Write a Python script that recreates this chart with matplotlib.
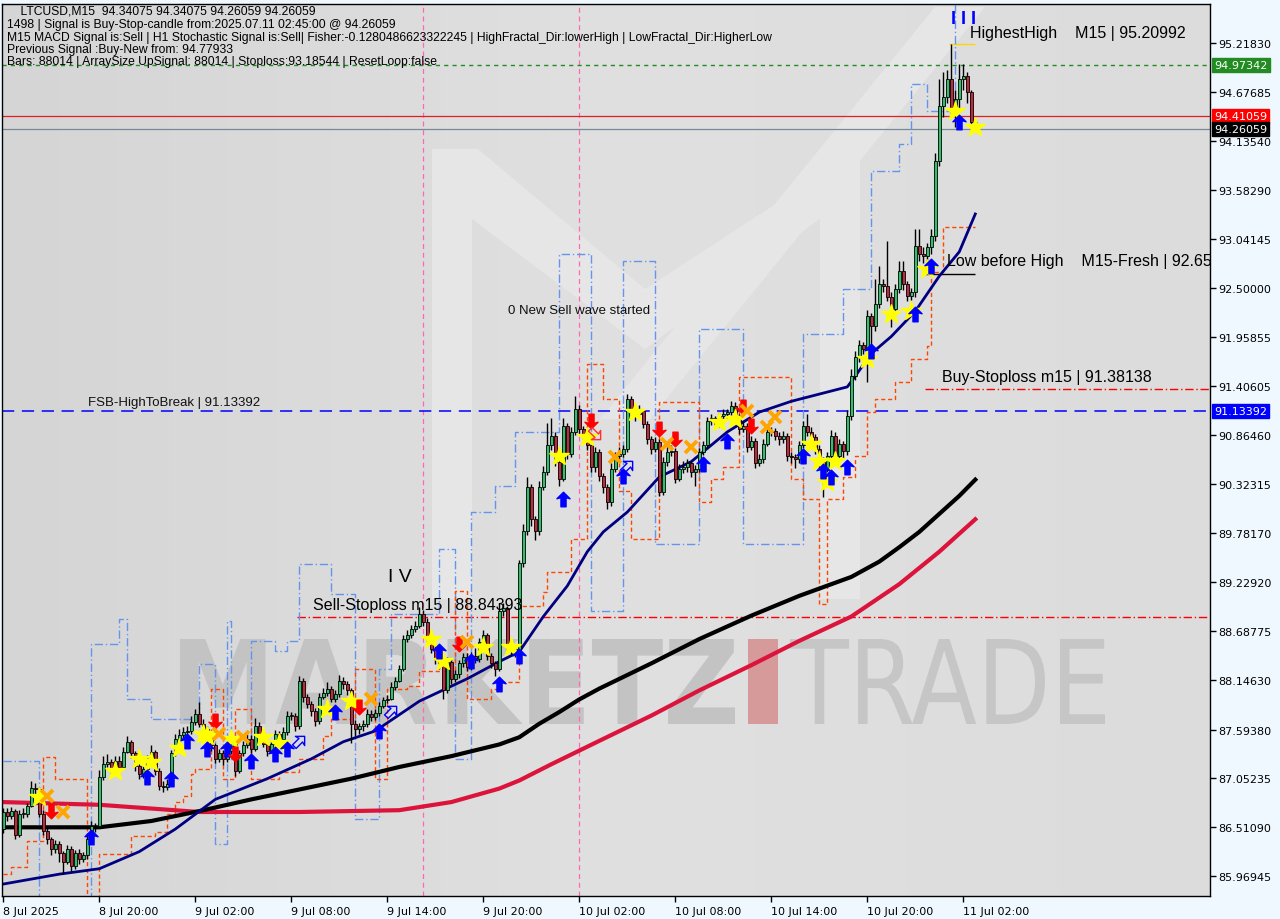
import numpy as np
import matplotlib
matplotlib.use("Agg")
import matplotlib.pyplot as plt
from matplotlib.path import Path
from matplotlib.patches import PathPatch, Polygon
from matplotlib.textpath import TextPath
from matplotlib.font_manager import FontProperties
from matplotlib.transforms import Affine2D, blended_transform_factory

# ---------------- DATA ----------------
first_open = 86.49
close = [86.68,86.63,86.69,86.42,86.66,86.66,86.75,86.95,86.94,86.66,
86.47,86.38,86.27,86.33,86.22,86.13,86.27,86.08,86.22,86.16,
86.20,86.38,86.52,86.52,87.07,87.21,87.24,87.14,87.25,87.18,
87.35,87.46,87.33,87.19,87.10,87.16,87.27,87.35,87.14,86.97,
86.96,86.99,87.33,87.49,87.53,87.57,87.58,87.68,87.77,87.66,
87.60,87.49,87.42,87.27,87.33,87.27,87.36,87.44,87.14,87.33,
87.42,87.49,87.38,87.64,87.55,87.44,87.36,87.44,87.55,87.49,
87.57,87.75,87.75,87.63,88.14,87.96,87.88,87.80,87.69,87.96,
88.00,88.05,87.94,87.99,88.13,88.10,88.03,87.66,87.60,87.63,
87.66,87.77,87.74,87.78,87.86,87.92,87.94,88.07,88.14,88.27,
88.60,88.64,88.71,88.74,88.88,88.79,88.60,88.49,88.38,88.33,
88.03,88.35,88.16,88.21,88.33,88.40,88.29,88.41,88.38,88.57,
88.64,88.41,88.33,88.27,88.91,88.94,88.52,88.49,88.46,89.44,
89.80,90.29,89.93,89.80,90.29,90.46,90.75,90.86,90.57,90.38,
90.97,90.66,90.90,91.16,90.93,90.88,90.75,90.51,90.68,90.41,
90.29,90.12,90.49,90.63,90.66,90.71,91.27,91.12,91.10,91.13,
90.99,90.82,90.71,90.79,90.23,90.57,90.68,90.69,90.38,90.49,
90.51,90.55,90.46,90.49,90.68,90.75,91.02,91.05,90.99,91.08,
91.10,91.12,91.19,91.07,90.93,90.97,90.73,90.80,90.55,90.60,
90.77,90.90,90.91,90.86,90.82,90.86,90.63,90.62,90.60,90.75,
90.97,90.90,90.84,90.71,90.57,90.49,90.63,90.86,90.63,90.77,
90.69,91.08,91.52,91.73,91.86,91.82,92.19,92.08,92.32,92.54,
92.52,92.40,92.27,92.49,92.69,92.54,92.41,92.45,92.96,92.88,
92.85,92.95,93.08,93.91,94.52,94.62,94.82,94.49,94.60,94.82,
94.85,94.67,94.34,94.26059]
high = [86.72,86.72,86.74,86.71,86.70,86.72,86.78,87.02,87.00,86.96,
86.70,86.50,86.40,86.37,86.36,86.25,86.31,86.30,86.26,86.27,
86.24,86.45,86.58,86.56,87.15,87.30,87.32,87.27,87.30,87.30,
87.40,87.52,87.48,87.36,87.22,87.20,87.31,87.42,87.37,87.17,
87.02,87.05,87.37,87.55,87.60,87.62,87.64,87.75,87.82,87.90,
87.71,87.63,87.53,87.45,87.38,87.37,87.40,87.50,87.47,87.37,
87.47,87.55,87.54,87.72,87.68,87.58,87.48,87.48,87.59,87.58,
87.62,87.80,87.79,87.78,88.19,88.17,87.99,87.91,87.83,88.00,
88.06,88.12,88.08,88.04,88.20,88.18,88.13,88.06,87.70,87.67,
87.70,87.82,87.81,87.82,87.90,87.96,87.98,88.12,88.18,88.31,
88.65,88.70,88.76,88.80,88.96,88.92,88.83,88.64,88.53,88.42,
88.36,88.40,88.38,88.26,88.37,88.45,88.44,88.46,88.50,88.61,
88.70,88.67,88.45,88.36,89.00,89.00,88.97,88.56,88.53,89.48,
89.88,90.40,90.32,89.97,90.36,90.52,91.00,91.05,90.90,90.60,
91.05,91.00,90.95,91.30,91.20,90.97,90.92,90.78,90.73,90.71,
90.44,90.32,90.55,90.68,90.73,90.76,91.32,91.30,91.18,91.20,
91.16,91.02,90.85,90.84,90.82,90.62,90.73,90.75,90.72,90.54,
90.58,90.60,90.58,90.53,90.72,90.80,91.07,91.10,91.08,91.12,
91.15,91.16,91.24,91.23,91.10,91.02,91.00,90.85,90.83,90.65,
90.82,90.95,90.96,90.94,90.90,90.91,90.89,90.68,90.66,90.80,
91.02,91.10,90.95,90.88,90.75,90.62,90.68,90.92,90.90,90.82,
90.80,91.14,91.60,91.80,91.92,91.90,92.25,92.22,92.60,92.74,
92.60,93.02,92.45,92.54,92.80,92.80,92.58,92.50,93.15,93.15,
92.95,93.00,93.15,94.00,94.82,94.90,94.92,95.21,94.70,94.98,
94.99,94.90,94.70,94.34075]
low = [86.45,86.58,86.60,86.38,86.40,86.61,86.62,86.73,86.88,86.62,
86.42,86.33,86.20,86.22,86.12,85.99,86.10,86.03,86.05,86.10,
86.12,86.16,86.36,86.46,86.50,87.04,87.18,87.10,87.12,87.13,
87.16,87.33,87.28,87.14,87.05,87.06,87.13,87.24,87.09,86.92,
86.90,86.92,86.97,87.30,87.46,87.50,87.53,87.55,87.65,87.62,
87.55,87.45,87.36,87.22,87.24,87.20,87.23,87.32,87.08,87.11,
87.30,87.39,87.33,87.36,87.50,87.40,87.30,87.33,87.41,87.45,
87.46,87.54,87.70,87.58,87.60,87.90,87.83,87.75,87.64,87.66,
87.93,87.97,87.90,87.90,87.96,88.05,87.98,87.45,87.52,87.55,
87.58,87.62,87.69,87.70,87.75,87.83,87.89,87.92,88.04,88.12,
88.25,88.57,88.61,88.68,88.72,88.74,88.55,88.44,88.32,88.27,
87.94,88.00,88.10,88.12,88.17,88.29,88.24,88.26,88.33,88.35,
88.53,88.37,88.28,88.19,88.24,88.86,88.47,88.43,88.40,88.44,
89.40,89.76,89.86,89.70,89.76,90.25,90.42,90.70,90.52,90.30,
90.35,90.60,90.62,90.87,90.88,90.82,90.70,90.45,90.46,90.36,
90.22,90.04,90.08,90.45,90.58,90.62,90.68,91.05,91.02,91.05,
90.94,90.77,90.65,90.68,90.19,90.20,90.52,90.63,90.33,90.35,
90.44,90.46,90.40,90.30,90.45,90.64,90.72,90.98,90.94,90.96,
91.03,91.06,91.09,91.02,90.88,90.90,90.68,90.70,90.50,90.52,
90.56,90.74,90.85,90.81,90.76,90.78,90.58,90.56,90.50,90.56,
90.72,90.85,90.78,90.66,90.50,90.18,90.40,90.58,90.58,90.58,
90.60,90.64,91.03,91.48,91.68,91.77,91.45,91.75,92.02,92.28,
92.45,92.35,92.07,92.20,92.44,92.48,92.35,92.36,92.40,92.80,
92.78,92.80,92.88,93.02,93.85,94.40,94.55,94.40,94.29,94.45,
94.70,94.55,94.30,94.26059]

ma_fast_bars = [0,14,24,34,43,53,66,77,85,93,104,116,124,129,135,141,146,150,
                156,164,172,181,189,197,204,211,213,217,222,228,234,239,243]
ma_fast = [85.88,85.99,86.05,86.24,86.49,86.82,87.05,87.27,87.46,87.58,87.91,88.16,88.35,
           88.46,88.85,89.19,89.57,89.79,90.01,90.40,90.57,90.90,91.12,91.24,91.32,91.40,
           91.52,91.77,91.96,92.24,92.63,92.90,93.32]
ma_mid_bars = [0,24,37,49,62,74,87,99,112,124,129,134,139,144,149,162,174,187,199,212,219,
               224,229,234,239,243]
ma_mid = [86.51,86.51,86.58,86.69,86.82,86.93,87.05,87.18,87.30,87.43,87.51,87.66,87.79,
          87.93,88.05,88.33,88.60,88.86,89.08,89.29,89.46,89.62,89.79,89.99,90.19,90.37]
ma_slow_bars = [0,24,49,74,99,112,124,129,137,149,162,174,187,199,212,224,234,243]
ma_slow = [86.79,86.76,86.68,86.68,86.70,86.79,86.94,87.03,87.21,87.47,87.75,88.03,88.31,
           88.58,88.85,89.21,89.57,89.93]

upper_bars = [0,9,22,29,31,37,49,53,56,57,62,68,71,74,82,88,94,97,109,113,117,123,128,139,
              147,155,163,174,185,200,209,210,217,224,227,231,238,243]
upper_vals = [87.25,85.60,88.55,88.82,87.94,87.71,88.32,86.32,88.80,87.27,88.58,88.47,88.58,
              89.43,89.10,86.60,88.27,88.88,89.60,87.27,90.01,90.30,90.90,92.88,88.91,92.80,
              89.66,92.04,89.66,91.99,91.99,92.49,93.80,94.10,94.76,94.46,95.80,95.80]
lower_bars = [0,2,6,10,13,21,24,32,38,41,43,45,47,48,52,55,58,62,69,74,80,82,88,93,96,101,
              104,113,116,122,124,129,135,136,142,146,150,154,157,164,174,177,180,184,197,
              200,204,206,210,213,216,218,223,227,231,232,235,243]
lower_vals = [85.99,86.07,86.36,87.29,87.05,85.60,86.21,86.41,86.46,86.66,86.79,86.86,87.10,
              87.16,88.05,87.05,87.82,87.05,87.12,87.27,87.52,87.71,88.27,87.05,88.05,88.08,
              88.24,89.13,87.94,88.05,88.12,88.97,89.12,89.35,89.71,91.65,91.27,90.24,89.71,
              91.23,90.12,90.38,90.51,91.51,90.38,90.16,88.99,90.16,90.40,90.63,91.12,91.27,
              91.45,91.71,91.85,92.68,93.18,93.18]

star_bars = [9,28,34,37,44,50,51,57,65,69,81,87,107,110,120,127,139,146,158,179,183,202,204,
             208,206,216,222,227,231,238,243]
star_vals = [86.85,87.14,87.27,87.24,87.39,87.55,87.52,87.49,87.51,87.45,87.82,87.91,88.60,
             88.36,88.51,88.51,90.63,90.84,91.12,91.01,91.04,90.77,90.58,90.58,90.34,91.71,
             92.21,92.24,92.71,94.46,94.29]
buy_bars = [22,36,42,46,51,56,62,68,71,83,94,109,117,124,129,140,155,175,181,200,205,207,
            211,217,228,232,239]
buy_vals = [86.40,87.07,87.05,87.47,87.38,87.38,87.25,87.32,87.38,87.79,87.58,88.47,88.36,
            88.10,88.41,90.16,90.41,90.54,90.80,90.63,90.47,90.40,90.51,91.80,92.21,92.74,94.34]
buy_hollow_bars = [74,97,156]
buy_hollow_vals = [87.47,87.80,90.52]
sell_bars = [12,53,58,89,114,147,164,168,187,185]
sell_vals = [86.69,87.69,87.32,87.85,88.55,91.02,90.93,90.82,90.97,91.18]
sell_hollow_bars = [148]
sell_hollow_vals = [90.88]
x_bars = [11,15,54,60,92,116,153,166,172,186,191,193]
x_vals = [86.86,86.68,87.55,87.51,87.93,88.57,90.62,90.77,90.73,91.13,90.96,91.07]

price_ticks = [95.21830,94.67685,94.13540,93.58290,93.04145,92.50000,91.95855,91.40605,
               90.86460,90.32315,89.78170,89.22920,88.68775,88.14630,87.59380,87.05235,
               86.51090,85.96945]
time_tick_bars = [0,24,48,72,96,120,144,168,192,216,240]
time_tick_labels = ["8 Jul 2025","8 Jul 20:00","9 Jul 02:00","9 Jul 08:00","9 Jul 14:00",
                    "9 Jul 20:00","10 Jul 02:00","10 Jul 08:00","10 Jul 14:00",
                    "10 Jul 20:00","11 Jul 02:00"]

header_lines = [
    "    LTCUSD,M15  94.34075 94.34075 94.26059 94.26059",
    "1498 | Signal is Buy-Stop-candle from:2025.07.11 02:45:00 @ 94.26059",
    "M15 MACD Signal is:Sell | H1 Stochastic Signal is:Sell| Fisher:-0.1280486623322245 | HighFractal_Dir:lowerHigh | LowFractal_Dir:HigherLow",
    "Previous Signal :Buy-New from: 94.77933",
    "Bars: 88014 | ArraySize UpSignal: 88014 | Stoploss:93.18544 | ResetLoop:false",
]

level_green = 94.97342
level_red = 94.41059
level_bid = 94.26059
level_fsb = 91.13392
sell_stop = 88.84393
buy_stop = 91.38138
low_before_high = 92.65
highest_high = 95.20992

# ---------------- FIGURE ----------------
W, H = 1280, 920
fig = plt.figure(figsize=(12.8, 9.2), dpi=100, facecolor='#F0F8FF')
L, R, T, B = 2, 1210, 5, 897
ax = fig.add_axes([L / W, 1 - B / H, (R - L) / W, (B - T) / H])
ax.set_facecolor('#D9D9D9')
ax.set_xlim(-0.325, 301.675)
ax.set_ylim(85.7473, 95.6513)

P = Affine2D().scale(1 / W, -1 / H).translate(0, 1) + fig.transFigure  # pixel (y down) -> display

# background gradient
grad = np.linspace(0, 1, 256)[None, :]
ax.imshow(grad, extent=[-0.325, 301.675, 85.7473, 95.6513], aspect='auto',
          cmap=matplotlib.colors.LinearSegmentedColormap.from_list('bg', ['#D5D5D5', '#E0E0E0', '#DCDCDC']),
          zorder=0, interpolation='bicubic')

# big M logo (light shapes)
logo_polys = [
    [(432, 150), (472, 150), (472, 600), (432, 600)],
    [(820, 150), (860, 150), (860, 600), (820, 600)],
    [(432, 150), (478, 150), (645, 290), (645, 350), (432, 190)],
    [(645, 290), (860, 150), (860, 190), (645, 350)],
    [(600, 420), (935, 8), (985, 8), (650, 420)],
]
for poly in logo_polys:
    ax.add_patch(Polygon(poly, closed=True, transform=P, facecolor='#E6E6E6',
                         edgecolor='none', zorder=0.3))

# watermark text
def fit_text(s, bbox, color, weight):
    tp = TextPath((0, 0), s, size=100, prop=FontProperties(family='DejaVu Sans', weight=weight))
    ext = tp.get_extents()
    x0, y0, x1, y1 = bbox
    sx = (x1 - x0) / ext.width
    sy = (y1 - y0) / ext.height
    tr = Affine2D().translate(-ext.x0, -ext.y0).scale(sx, -sy).translate(x0, y1) + P
    ax.add_patch(PathPatch(tp, transform=tr, facecolor=color, edgecolor='none', zorder=0.5))

fit_text("MARKETZ", (180, 640, 735, 725), '#C3C3C3', 'bold')
fit_text("TRADE", (790, 640, 1105, 725), '#C6C6C6', 'normal')
ax.add_patch(Polygon([(748, 640), (778, 640), (778, 725), (748, 725)], closed=True,
                     transform=P, facecolor='#D69A9A', edgecolor='none', zorder=0.5))

# vertical pink dashed lines
for vb in [105, 144]:
    ax.axvline(vb, color='#FF69B4', lw=0.9, ls=(0, (4, 3)), zorder=1)

# bands
ax.step(upper_bars, upper_vals, where='post', color='#6495ED', lw=1.0,
        ls=(0, (6, 2, 1, 2)), zorder=1.2)
ax.step(lower_bars, lower_vals, where='post', color='#FF4500', lw=1.0,
        ls=(0, (3, 2)), zorder=1.2)

# horizontal levels
ax.axhline(level_green, color='#228B22', lw=1.0, ls=(0, (3, 3)), zorder=1.1)
ax.axhline(level_red, color='#E02020', lw=0.9, zorder=1.1)
ax.axhline(level_bid, color='#778899', lw=0.9, zorder=1.1)
ax.axhline(level_fsb, color='#0000FF', lw=1.1, ls=(0, (8, 5)), zorder=1.1)
ax.hlines(sell_stop, 73.4, 302, color='#FF0000', lw=1.0, ls=(0, (6, 2, 1, 2)), zorder=1.1)
ax.hlines(buy_stop, 230.4, 302, color='#FF0000', lw=1.0, ls=(0, (6, 2, 1, 2)), zorder=1.1)
ax.hlines(low_before_high, 230.4, 243, color='black', lw=1.0, zorder=1.1)
ax.hlines(highest_high, 236.5, 243, color='#FFD700', lw=1.0, zorder=1.1)

# moving averages
ax.plot(ma_slow_bars, ma_slow, color='#DC143C', lw=3.0, zorder=1.5, solid_joinstyle='round')
ax.plot(ma_mid_bars, ma_mid, color='#000000', lw=3.0, zorder=1.6, solid_joinstyle='round')
ax.plot(ma_fast_bars, ma_fast, color='#000080', lw=2.0, zorder=1.7, solid_joinstyle='round')

# candles
n = len(close)
opens = [first_open] + close[:-1]
for i in range(n):
    o, c = opens[i], close[i]
    hi = max(high[i], o, c)
    lo = min(low[i], o, c)
    ax.vlines(i, lo, hi, color='black', lw=1.0, zorder=2)
    col = '#2DC26B' if c >= o else '#C0283C'
    ax.bar(i, max(abs(c - o), 0.004), bottom=min(o, c), width=0.72, color=col,
           edgecolor='black', linewidth=0.6, zorder=2.1)

# signal markers
up_arrow = Path([(0, 1), (0.9, 0.1), (0.35, 0.25), (0.35, -1), (-0.35, -1), (-0.35, 0.25),
                 (-0.9, 0.1), (0, 1)], [Path.MOVETO] + [Path.LINETO] * 6 + [Path.CLOSEPOLY])
down_arrow = up_arrow.transformed(Affine2D().scale(1, -1))
hollow_up = up_arrow.transformed(Affine2D().rotate_deg(-45))
hollow_down = up_arrow.transformed(Affine2D().rotate_deg(-135))

ax.plot(star_bars, star_vals, ls='none', marker='*', ms=14.5, mfc='#FFFF00', mec='#FFFF00', zorder=3)
ax.plot(buy_bars, buy_vals, ls='none', marker=up_arrow, ms=10.5, mfc='#0000FF', mec='#0000FF', zorder=3.1)
ax.plot(sell_bars, sell_vals, ls='none', marker=down_arrow, ms=10.5, mfc='#FF0000', mec='#FF0000', zorder=3.1)
ax.plot(buy_hollow_bars, buy_hollow_vals, ls='none', marker=hollow_up, ms=10, mfc='none',
        mec='#0000FF', mew=1.0, zorder=3.1)
ax.plot(sell_hollow_bars, sell_hollow_vals, ls='none', marker=hollow_down, ms=10, mfc='none',
        mec='#FF3030', mew=1.0, zorder=3.1)
ax.plot(x_bars, x_vals, ls='none', marker='x', ms=8.5, mec='#FFA500', mew=2.8, zorder=3.1)

# annotations
afont = 'Liberation Sans'
ax.text(126.2, 92.25, "0 New Sell wave started", fontsize=9.5, family=afont, va='center',
        ha='left', color='#111111', zorder=4)
ax.text(21.2, level_fsb + 0.03, "FSB-HighToBreak | 91.13392", fontsize=9.5, family=afont,
        va='bottom', ha='left', color='#111111', zorder=4)
ax.text(96.2, 89.30, "I V", fontsize=14, family=afont, va='center', ha='left', color='black', zorder=4)
ax.text(77.4, 88.98, "Sell-Stoploss m15 | 88.84393", fontsize=11.5, family=afont, va='center',
        ha='left', color='black', zorder=4)
ax.text(234.7, 91.51, "Buy-Stoploss m15 | 91.38138", fontsize=11.5, family=afont, va='center',
        ha='left', color='black', zorder=4)
ax.text(235.9, 92.80, "Low before High    M15-Fresh | 92.65", fontsize=11.5, family=afont,
        va='center', ha='left', color='black', zorder=4, clip_on=True)
ax.text(241.7, 95.34, "HighestHigh    M15 | 95.20992", fontsize=11.5, family=afont, va='center',
        ha='left', color='black', zorder=4)
ax.text(237.0, 95.49, "I I I", fontsize=13, family=afont, va='center', ha='left',
        color='#0000FF', weight='bold', zorder=4)

# header
ys = [12, 25, 38, 50, 62]
for txt, yy in zip(header_lines, ys):
    fig.text(7 / W, 1 - yy / H, txt, fontsize=8.7, family='Liberation Sans', va='center',
             ha='left', color='black')

# axes styling
for s in ax.spines.values():
    s.set_color('black')
    s.set_linewidth(1.0)
ax.yaxis.tick_right()
ax.set_yticks(price_ticks)
ax.set_yticklabels([f"{v:.5f}" for v in price_ticks], fontsize=8, family='DejaVu Sans')
ax.tick_params(axis='y', direction='out', length=4, width=1, pad=2, colors='black')
ax.set_xticks(time_tick_bars)
ax.set_xticklabels(time_tick_labels, fontsize=8, family='DejaVu Sans', ha='left')
ax.tick_params(axis='x', direction='out', length=4, width=1, pad=3, colors='black')
for lbl in ax.get_xticklabels():
    lbl.set_horizontalalignment('left')

# price tags
bt = blended_transform_factory(ax.transAxes, ax.transData)
for val, colr in [(level_green, '#228B22'), (level_red, '#FF0000'), (level_bid, '#000000'),
                  (level_fsb, '#0000FF')]:
    ax.text(1.0035, val, f"{val:.5f}", transform=bt, fontsize=8, family='DejaVu Sans',
            color='white', va='center', ha='left', zorder=6, clip_on=False,
            bbox=dict(boxstyle='square,pad=0.18', facecolor=colr, edgecolor=colr))

fig.savefig('out.png', dpi=100, facecolor=fig.get_facecolor())
